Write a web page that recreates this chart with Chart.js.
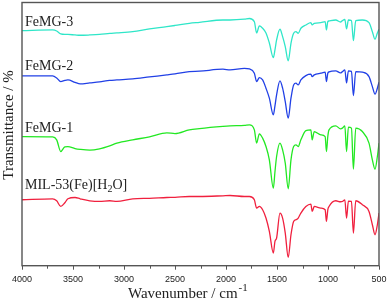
<!DOCTYPE html>
<html>
<head>
<meta charset="utf-8">
<script src="https://cdn.jsdelivr.net/npm/chart.js@4"></script>
<style>
    html, body { margin: 0; padding: 0; background: #fff; }
    #wrap { width: 390px; height: 308px; }
</style>
</head>
<body>
<div id="wrap"><canvas id="irChart" width="390" height="308"></canvas></div>
<script>
// wavenumbers (cm-1) shared by all four spectra
let wavenumbers = [4000, 3700, 3660, 3620, 3580, 3550, 3480, 3430, 3335, 3240, 3140, 3070, 2915, 2750, 2580, 2500, 2360, 2260, 2030, 1960,
    1820, 1770, 1722, 1700, 1673, 1641, 1608, 1575, 1536, 1520, 1504, 1471, 1445, 1419, 1390, 1363, 1337, 1314, 1292, 1266,
    1217, 1168, 1155, 1135, 1070, 1028, 1015, 1002, 990, 924, 877, 859, 835, 818, 800, 770, 751, 728, 663, 598,
    565, 539, 516, 500]

// stacked transmittance, arbitrary units (offset per sample)
let femg3 = [235.3, 236, 235, 232, 231.5, 231.5, 231, 230.7, 231, 231.5, 232.5, 233, 234.3, 237, 239.3, 240.5, 242.7, 243.7, 246, 246,
    246.8, 247.5, 244.3, 233, 240, 237.7, 233, 223, 208.3, 216, 226, 236.7, 229.3, 219.3, 205, 222.7, 232.7, 234.3, 232.7, 237.7,
    241, 243.3, 241, 242.7, 243.3, 244.3, 236, 244.3, 245, 246, 244, 245.3, 246.5, 237, 246, 245.5, 225.3, 245.3, 246, 243.3,
    234.3, 226.7, 233, 236.7]
let femg2 = [190, 190, 188, 184.3, 185.5, 186, 183.5, 182, 183, 184, 185.5, 186, 187, 189, 191, 192, 194.3, 194.7, 196.7, 196,
    197.5, 197, 192.7, 184.3, 188.3, 186, 177.7, 167.7, 151, 160, 171, 185, 177.7, 164.3, 147.7, 167.7, 181, 182.7, 181, 186,
    190.3, 191.7, 189.3, 191, 192.7, 193.7, 184.3, 192.7, 194, 195, 193, 194.3, 196, 183, 195, 194.5, 170.3, 194.3, 193.7, 189.3,
    179.3, 171.7, 177.7, 183.7]
let femg1 = [129.3, 129, 126, 114.3, 119, 119.3, 117.3, 116.5, 115.7, 117, 120, 122.7, 126, 129, 133, 132.3, 136, 137.3, 139.5, 140,
    140.5, 141, 136, 122.7, 132, 127.7, 119.3, 106, 77.7, 94, 109.3, 122.7, 116, 102.7, 77, 106, 119.3, 121, 119.3, 126,
    135.3, 136, 126, 134.3, 131, 129.3, 114.3, 129.3, 136, 140, 137, 137.7, 140, 114.3, 138.7, 137.7, 96.7, 137.7, 134.3, 122.7,
    106, 96.7, 109.3, 122.7]
let mil53 = [66, 67, 65, 59.3, 63, 67, 68.3, 67, 65, 64.3, 65, 64.3, 67, 67.5, 68.3, 68.5, 69.3, 69.3, 70, 70.3,
    69.3, 69.3, 66, 57.7, 59.3, 56, 47.7, 34.3, 12.7, 24.3, 27.7, 52.7, 47.7, 32.7, 8.3, 31, 44.3, 46, 47.7, 52.7,
    59.3, 61.7, 54.3, 59.3, 57.7, 56, 44.3, 56, 59.3, 65, 64, 64.3, 66, 47.7, 64.5, 64.3, 32.7, 65, 61, 54.3,
    41, 31, 41, 52.7]

let seriesNames = ['FeMG-3', 'FeMG-2', 'FeMG-1', 'MIL-53(Fe)[H2O]']
let seriesColors = ['#2fe6c8', '#2140e6', '#22e822', '#f0203e']
let xTicks = [4000, 3500, 3000, 2500, 2000, 1500, 1000, 500]

function toPoints(values) {
    return values.map((v, i) => ({ x: wavenumbers[i], y: v }))
}

const serif = '"Liberation Serif", "Times New Roman", serif'
const sans = '"Liberation Sans", Arial, sans-serif'

// frame, outward ticks, tick labels, titles and sample labels
const decorPlugin = {
    id: 'decor',
    afterDatasetsDraw(chart) {
        let ctx = chart.ctx
        let a = chart.chartArea
        let xs = chart.scales.x
        ctx.save()
        ctx.strokeStyle = '#555'
        ctx.lineWidth = 1.4
        ctx.strokeRect(a.left, a.top, a.right - a.left, a.bottom - a.top)
        ctx.lineWidth = 1
        for (let w = 500; w <= 4000; w += 250) {
            let px = Math.round(xs.getPixelForValue(w)) + 0.5
            let len = (w % 500 === 0) ? 4 : 3
            ctx.beginPath()
            ctx.moveTo(px, a.bottom)
            ctx.lineTo(px, a.bottom + len)
            ctx.stroke()
        }

        ctx.fillStyle = '#222'
        ctx.font = '9px ' + sans
        ctx.textAlign = 'center'
        ctx.textBaseline = 'middle'
        xTicks.forEach(w => {
            ctx.fillText(String(w), xs.getPixelForValue(w), a.bottom + 13.5)
        })

        ctx.textBaseline = 'alphabetic'
        ctx.textAlign = 'left'
        ctx.font = '14px ' + serif
        ctx.fillText(seriesNames[0], 25, 26)
        ctx.fillText(seriesNames[1], 25, 70)
        ctx.fillText(seriesNames[2], 25, 131.5)
        // MIL-53(Fe)[H2O] with subscript
        let x = 25
        ctx.fillText('MIL-53(Fe)[H', x, 189)
        x += ctx.measureText('MIL-53(Fe)[H').width
        ctx.font = '10px ' + serif
        ctx.fillText('2', x, 192)
        x += ctx.measureText('2').width
        ctx.font = '14px ' + serif
        ctx.fillText('O]', x, 189)

        // x title with superscript
        ctx.font = '15px ' + serif
        ctx.fillText('Wavenumber / cm', 128, 297.5)
        let tw = ctx.measureText('Wavenumber / cm').width
        ctx.font = '11px ' + serif
        ctx.fillText('-1', 128 + tw + 1, 291)

        // y title
        ctx.translate(13, 125)
        ctx.rotate(-Math.PI / 2)
        ctx.textAlign = 'center'
        ctx.font = '15px ' + serif
        ctx.fillText('Transmittance / %', 0, 0)
        ctx.restore()
    }
}

function drawChart() {
    let ctx = document.getElementById('irChart').getContext('2d')
    let spectra = [femg3, femg2, femg1, mil53]

    window.irChart = new Chart(ctx, {
        type: 'line',
        data: {
            datasets: spectra.map((s, i) => ({
                label: seriesNames[i],
                data: toPoints(s),
                borderColor: seriesColors[i],
                borderWidth: 1.3,
                pointRadius: 0,
                cubicInterpolationMode: 'monotone',
                fill: false
            }))
        },
        options: {
            responsive: false,
            animation: false,
            layout: { padding: { left: 22, right: 11, top: 2.5, bottom: 42.3 } },
            plugins: {
                legend: { display: false },
                tooltip: { enabled: false }
            },
            scales: {
                x: {
                    type: 'linear',
                    display: false,
                    reverse: true,
                    min: 500,
                    max: 4000
                },
                y: {
                    display: false,
                    min: 0,
                    max: 263.5
                }
            }
        },
        plugins: [decorPlugin]
    })
}

window.onload = function () {
    drawChart()
}
</script>
</body>
</html>
